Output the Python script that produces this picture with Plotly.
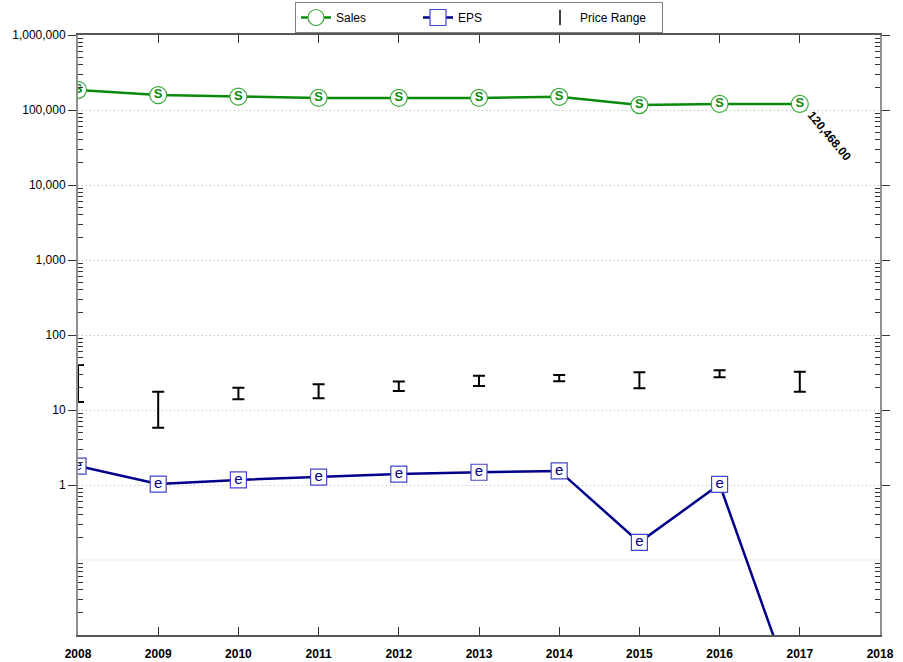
import plotly.graph_objects as go

# Data
years = [2008, 2009, 2010, 2011, 2012, 2013, 2014, 2015, 2016, 2017]
sales = [185000, 158000, 151000, 145000, 145000, 145000, 150000, 116500, 120500, 120468]
eps = [1.79, 1.03, 1.17, 1.27, 1.40, 1.48, 1.54, 0.172, 1.02, 0.001]
price_high = [39.8, 17.5, 19.8, 22.0, 23.9, 28.7, 29.3, 31.8, 33.8, 32.4]
price_low = [12.8, 5.8, 13.9, 14.3, 17.9, 20.9, 24.1, 19.5, 27.3, 17.5]

x_ticks = list(range(2008, 2019))
y_ticks = [1, 10, 100, 1000, 10000, 100000, 1000000]
y_labels = ["1", "10", "100", "1,000", "10,000", "100,000", "1,000,000"]

GREEN = "#0a8a0a"
BLUE = "#00008b"
GRID = "#b4b4b4"
Y_MIN = 0.01  # bottom of the log axis

minor_vals = [m * 10 ** d for d in range(-2, 6) for m in range(2, 10)]

fig = go.Figure()

# price range as error bars hanging from the high
fig.add_trace(go.Scatter(
    x=years, y=price_high, mode="markers",
    marker=dict(size=1, color="rgba(0,0,0,0)"),
    error_y=dict(type="data", symmetric=False,
                 array=[0] * len(years),
                 arrayminus=[h - l for h, l in zip(price_high, price_low)],
                 color="black", thickness=2, width=6),
    showlegend=False, hoverinfo="skip",
))

fig.add_trace(go.Scatter(
    x=years, y=sales, mode="lines+markers+text", name="Sales",
    line=dict(color=GREEN, width=2.5),
    marker=dict(symbol="circle", size=17, color="white",
                line=dict(color="#3aa83a", width=1.2)),
    text=["S"] * len(years), textposition="middle center",
    textfont=dict(family="Liberation Sans", size=13, color=GREEN, weight="bold"),
))

# points that fall below the axis keep the line but no label
fig.add_trace(go.Scatter(
    x=years, y=eps, mode="lines+markers+text", name="EPS",
    line=dict(color=BLUE, width=2.5),
    marker=dict(symbol="square", size=16, color="white",
                line=dict(color="#4444cc", width=1.2)),
    text=["e" if v >= Y_MIN else "" for v in eps], textposition="middle center",
    textfont=dict(family="Liberation Sans", size=15, color=BLUE),
))

# legend entry for the price range
fig.add_trace(go.Scatter(
    x=[None], y=[None], mode="markers", name="Price Range",
    marker=dict(symbol="line-ns", size=11, color="black",
                line=dict(color="black", width=1.5)),
))

fig.add_annotation(
    x=years[-1], y=5.0805, text=f"{sales[-1]:,.2f}",
    textangle=50, showarrow=False, xanchor="left", yanchor="top",
    xshift=2, yshift=-2,
    font=dict(family="Liberation Sans", size=12, color="black", weight="bold"),
)

fig.update_layout(
    width=903, height=662,
    margin=dict(l=78, r=23, t=35, b=27, autoexpand=False),
    plot_bgcolor="white", paper_bgcolor="white",
    font=dict(family="Liberation Sans", size=12, color="black"),
    showlegend=True,
    legend=dict(orientation="h", x=0.5, xanchor="center",
                yref="container", y=0.997, yanchor="top",
                bordercolor="#808080", borderwidth=1, bgcolor="white",
                entrywidth=77, itemwidth=30, tracegroupgap=0,
                font=dict(family="Liberation Sans", size=12)),
    xaxis=dict(range=[2008, 2018], tickvals=x_ticks, automargin=False,
               ticks="inside", ticklen=8, tickcolor="#333", ticklabelstandoff=7,
               showgrid=False, zeroline=False,
               showline=True, linecolor="#555", linewidth=1.5, mirror="ticks",
               tickfont=dict(family="Liberation Sans", size=12, color="black", weight="bold")),
    yaxis=dict(type="log", range=[-2, 6], tickvals=y_ticks, ticktext=y_labels,
               automargin=False,
               ticks="outside", ticklen=8, tickcolor="#333",
               showgrid=True, gridcolor=GRID, griddash="1px,3px", gridwidth=1,
               showline=True, linecolor="#909090", linewidth=2, mirror="ticks",
               minor=dict(tickvals=minor_vals, ticks="inside", ticklen=5,
                          tickcolor="#333", showgrid=False),
               tickfont=dict(family="Liberation Sans", size=12, color="black")),
)

# 0.1 gridline (no label)
fig.add_hline(y=0.1, line=dict(color=GRID, width=1, dash="1px,3px"), layer="below")

# drop the default page margin so the figure sits at the window's corner
fig.write_html("out.html", config={"displayModeBar": False},
               post_script="document.body.style.margin='0';")
